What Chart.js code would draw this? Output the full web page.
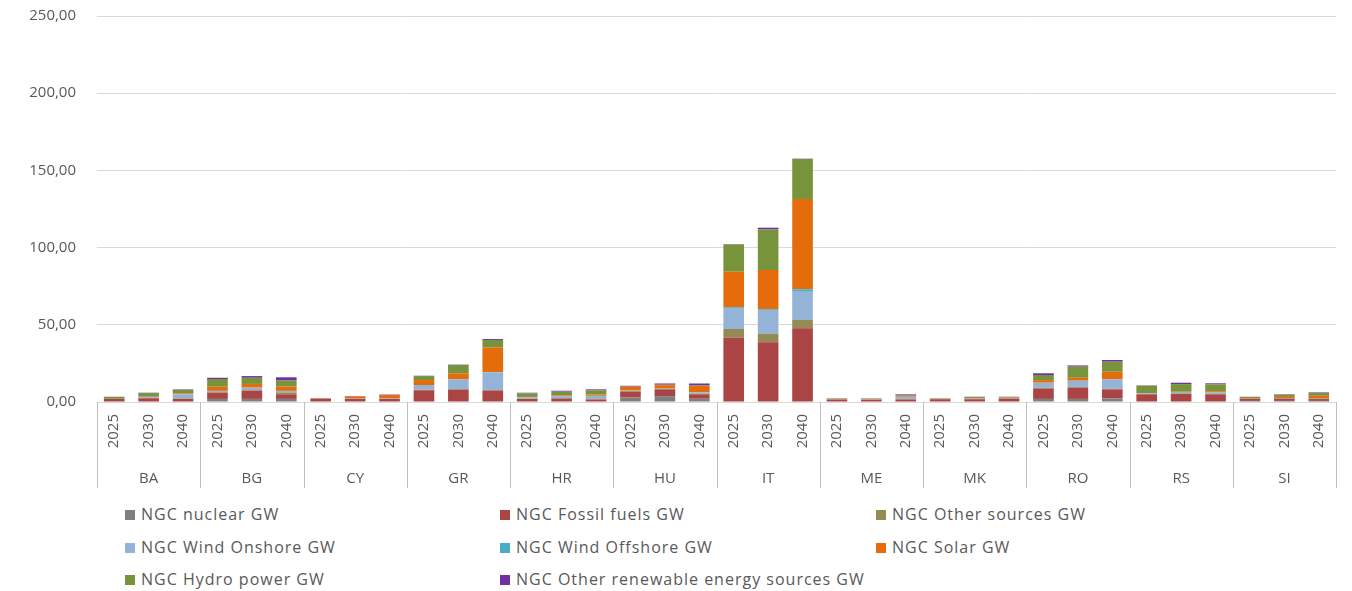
<!DOCTYPE html>
<html>
<head>
<meta charset="utf-8">
<script src="https://cdn.jsdelivr.net/npm/chart.js@4.4.0/dist/chart.umd.min.js"></script>
<style>
  body { margin: 0; background: #fff; overflow: hidden; }
  #wrap { position: relative; width: 1352px; height: 591px; overflow: hidden; }
  #box { position: absolute; left: 0; top: -14px; width: 1352px; height: 514px; }
  #legend { position: absolute; left: 0; top: 500px; width: 1352px; height: 91px;
            font-family: "Open Sans", sans-serif; font-size: 16px; color: #595959; letter-spacing: 1px; }
  .item { position: absolute; white-space: nowrap; line-height: 20px; }
  .item i { display: inline-block; width: 10px; height: 10px; margin-right: 6px; vertical-align: 0px; }
</style>
</head>
<body>
<div id="wrap">
  <div id="box"><canvas id="chart"></canvas></div>
  <div id="legend"></div>
</div>
<script>
// categories
const countries = ['BA', 'BG', 'CY', 'GR', 'HR', 'HU', 'IT', 'ME', 'MK', 'RO', 'RS', 'SI'];
const years = ['2025', '2030', '2040'];
const yTicks = [0, 50, 100, 150, 200, 250];

// GW per country/year (BA25, BA30, BA40, BG25, ...)
const nuclear = [0, 0, 0, 2.0, 2.0, 2.0, 0, 0, 0, 0, 0, 0, 0, 0, 0, 2.9, 3.8, 2.1, 0, 0, 0, 0, 0, 0, 0, 0, 0, 2.0, 2.0, 2.4, 0, 0, 0, 0.7, 0.7, 0.7];
const fossil = [2.0, 2.4, 2.0, 4.0, 5.3, 3.0, 2.3, 2.0, 2.0, 7.6, 8.0, 7.4, 2.0, 2.2, 1.6, 3.7, 4.4, 2.9, 41.6, 38.7, 47.7, 1.6, 1.5, 1.6, 1.8, 1.8, 2.2, 6.8, 7.3, 5.8, 5.0, 5.2, 5.0, 1.3, 1.5, 1.2];
const otherSources = [0.1, 0.2, 0.3, 0.4, 0.4, 1.2, 0, 0, 0, 0.4, 0.4, 0.4, 0.3, 0.4, 0.6, 0.5, 0.5, 0.5, 5.7, 5.5, 5.4, 0.2, 0.2, 0.4, 0.2, 0.2, 0.2, 0.4, 0.4, 0.4, 0.2, 0.4, 0.4, 0.1, 0.2, 0.5];
const windOnshore = [0, 0.6, 2.7, 0.8, 1.6, 1.0, 0, 0.2, 0.3, 3.0, 6.3, 11.4, 0.8, 1.2, 1.8, 0.3, 0.3, 0.8, 13.6, 15.4, 18.3, 0.1, 0.2, 1.4, 0, 0.2, 0.2, 3.3, 4.1, 6.1, 0.5, 0.9, 1.0, 0, 0.1, 0.2];
const windOffshore = [0, 0, 0, 0, 0, 0, 0, 0, 0, 0, 0, 0.2, 0, 0, 0, 0, 0, 0, 0.5, 0.5, 1.6, 0, 0, 0, 0, 0, 0, 0, 0, 0, 0, 0, 0, 0, 0, 0];
const solar = [0, 0.3, 0.6, 2.7, 2.4, 2.8, 0.1, 1.4, 2.2, 3.2, 3.9, 16.0, 0.2, 0.5, 0.8, 2.4, 1.9, 4.1, 23.0, 25.4, 58.5, 0.1, 0.2, 0.6, 0.1, 0.3, 0.2, 1.7, 1.9, 4.9, 0.1, 0.2, 0.6, 0.3, 0.8, 1.4];
const hydro = [1.2, 2.3, 2.3, 5.0, 4.0, 3.9, 0, 0, 0, 2.6, 5.4, 4.8, 2.2, 2.4, 2.8, 0.2, 0.3, 0.3, 17.6, 26.3, 25.9, 0.3, 0.2, 0.6, 0.2, 0.7, 0.4, 3.3, 7.2, 6.5, 4.8, 4.9, 4.4, 0.9, 1.4, 1.8];
const otherRenewable = [0.1, 0.2, 0.3, 0.8, 1.1, 2.1, 0, 0.3, 0.3, 0.2, 0.2, 0.6, 0.5, 0.6, 0.6, 0.5, 0.8, 1.3, 0.3, 1.1, 0.2, 0.1, 0.1, 0.4, 0.1, 0.2, 0.2, 1.1, 0.8, 1.1, 0.2, 0.9, 0.7, 0.1, 0.3, 0.4];

const seriesNames = ['NGC nuclear GW', 'NGC Fossil fuels GW', 'NGC Other sources GW', 'NGC Wind Onshore GW',
                     'NGC Wind Offshore GW', 'NGC Solar GW', 'NGC Hydro power GW', 'NGC Other renewable energy sources GW'];
const seriesData = [nuclear, fossil, otherSources, windOnshore, windOffshore, solar, hydro, otherRenewable];
const seriesColors = ['#7f7f7f', '#ab4545', '#948a54', '#95b3d7', '#4bacc6', '#e46c0a', '#77933c', '#7030a0'];

const labels = countries.flatMap(() => years);
const textColor = '#595959';
const axisFont = { family: '"Open Sans", sans-serif', size: 15 };

// vertical separators between country groups, below the axis
const groupLines = {
    id: 'groupLines',
    afterDraw(chart) {
        const xs = chart.scales.x;
        const area = chart.chartArea;
        const ctx = chart.ctx;
        ctx.save();
        ctx.strokeStyle = '#bfbfbf';
        ctx.lineWidth = 1;
        for (let g = 0; g <= countries.length; g++) {
            let x;
            if (g === 0) x = area.left;
            else if (g === countries.length) x = area.right;
            else x = (xs.getPixelForValue(3 * g - 1) + xs.getPixelForValue(3 * g)) / 2;
            x = Math.round(x) + 0.5;
            ctx.beginPath();
            ctx.moveTo(x, area.bottom);
            ctx.lineTo(x, area.bottom + 86);
            ctx.stroke();
        }
        ctx.restore();
    }
};

new Chart(document.getElementById('chart'), {
    type: 'bar',
    data: {
        labels: labels,
        datasets: seriesNames.map((name, i) => ({
            label: name,
            data: seriesData[i],
            backgroundColor: seriesColors[i],
            borderWidth: 0,
            barPercentage: 0.6,
            categoryPercentage: 1.0
        }))
    },
    options: {
        responsive: true,
        maintainAspectRatio: false,
        animation: false,
        layout: { padding: { top: 2, right: 16, bottom: 10, left: 0 } },
        plugins: {
            legend: { display: false },
            tooltip: { enabled: false }
        },
        scales: {
            x: {
                stacked: true,
                grid: { display: false, drawTicks: false },
                border: { display: false },
                ticks: {
                    color: textColor,
                    font: axisFont,
                    minRotation: 90,
                    maxRotation: 90,
                    autoSkip: false,
                    padding: 12
                },
                afterFit: (scale) => { scale.height = 60; }
            },
            country: {
                type: 'category',
                labels: countries,
                position: 'bottom',
                offset: true,
                grid: { display: false, drawTicks: false },
                border: { display: false },
                ticks: { color: textColor, font: axisFont, padding: 8 },
                afterFit: (scale) => { scale.height = 28; }
            },
            y: {
                stacked: true,
                min: 0,
                max: 250,
                afterBuildTicks: (scale) => { scale.ticks = yTicks.map(v => ({ value: v })); },
                grid: { color: '#d9d9d9', drawTicks: false },
                border: { display: false },
                ticks: {
                    color: textColor,
                    font: axisFont,
                    padding: 21,
                    callback: (v) => v.toFixed(2).replace('.', ',')
                },
                afterFit: (scale) => { scale.width = 97; }
            }
        }
    },
    plugins: [groupLines]
});

// legend laid out in three fixed columns like the original
const legend = document.getElementById('legend');
const colX = [125, 500, 876];
const rowY = [4, 37, 69];
seriesNames.forEach((name, i) => {
    const d = document.createElement('div');
    d.className = 'item';
    d.style.left = colX[i % 3] + 'px';
    d.style.top = rowY[Math.floor(i / 3)] + 'px';
    d.innerHTML = '<i style="background:' + seriesColors[i] + '"></i>' + name;
    legend.appendChild(d);
});
</script>
</body>
</html>
